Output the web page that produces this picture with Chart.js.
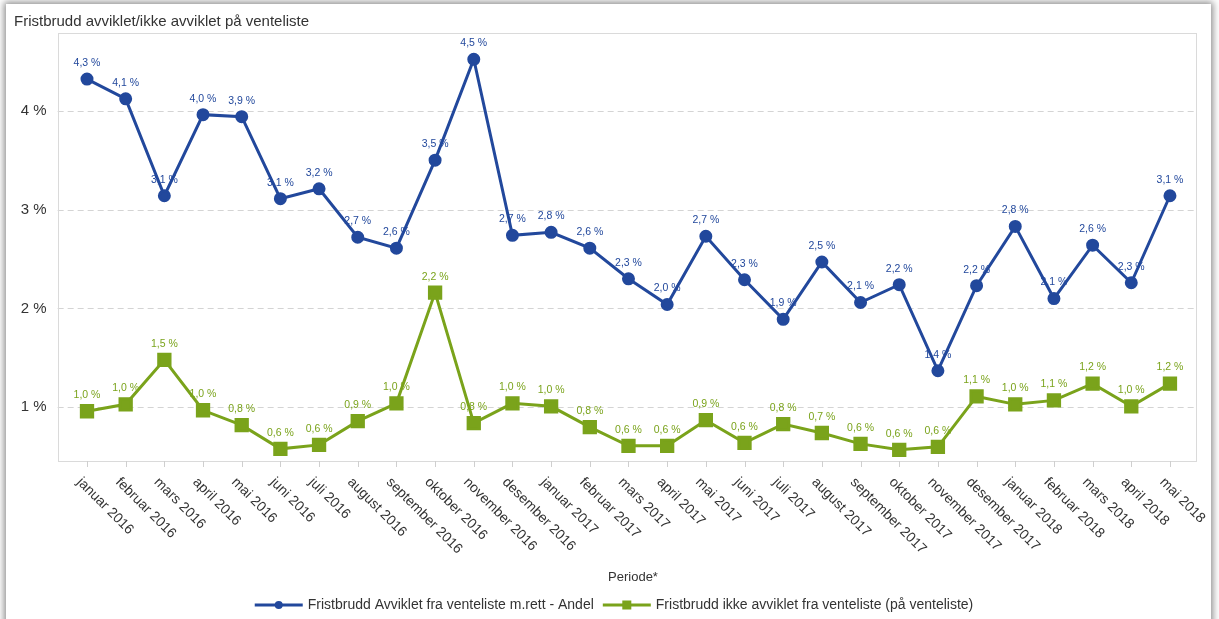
<!DOCTYPE html>
<html lang="no">
<head>
<meta charset="utf-8">
<title>Fristbrudd avviklet/ikke avviklet på venteliste</title>
<script src="https://cdn.jsdelivr.net/npm/chart.js@4.4.1/dist/chart.umd.min.js"></script>
<style>
  html, body { margin: 0; padding: 0; background: #ffffff; overflow: hidden; }
  #card {
    position: absolute; left: 6px; top: 4px; width: 1205px; height: 640px;
    background: #ffffff; box-shadow: 0 0 7px 2px rgba(0,0,0,0.45);
  }
  #chart { position: absolute; left: 0; top: 0; }
</style>
</head>
<body>
<div id="card"></div>
<canvas id="chart" width="1219" height="619"></canvas>
<script>
// Perioder (måneder) på x-aksen
const periods = [
  'januar 2016', 'februar 2016', 'mars 2016', 'april 2016', 'mai 2016', 'juni 2016',
  'juli 2016', 'august 2016', 'september 2016', 'oktober 2016', 'november 2016', 'desember 2016',
  'januar 2017', 'februar 2017', 'mars 2017', 'april 2017', 'mai 2017', 'juni 2017',
  'juli 2017', 'august 2017', 'september 2017', 'oktober 2017', 'november 2017', 'desember 2017',
  'januar 2018', 'februar 2018', 'mars 2018', 'april 2018', 'mai 2018'
];

// Andel fristbrudd, avviklet fra venteliste (prosent)
const avviklet = [
  4.32, 4.12, 3.14, 3.96, 3.94, 3.11, 3.21, 2.72, 2.61, 3.50, 4.52, 2.74,
  2.77, 2.61, 2.30, 2.04, 2.73, 2.29, 1.89, 2.47, 2.06, 2.24, 1.37, 2.23,
  2.83, 2.10, 2.64, 2.26, 3.14
];

// Andel fristbrudd, ikke avviklet (på venteliste) (prosent)
const ikkeAvviklet = [
  0.96, 1.03, 1.48, 0.97, 0.82, 0.58, 0.62, 0.86, 1.04, 2.16, 0.84, 1.04,
  1.01, 0.80, 0.61, 0.61, 0.87, 0.64, 0.83, 0.74, 0.63, 0.57, 0.60, 1.11,
  1.03, 1.07, 1.24, 1.01, 1.24
];

// Verdier med hjelpelinje og aksetekst på y-aksen
const yTicks = [1, 2, 3, 4];

const seriesNames = [
  'Fristbrudd Avviklet fra venteliste m.rett - Andel',
  'Fristbrudd ikke avviklet fra venteliste (på venteliste)'
];

const chartTitle = 'Fristbrudd avviklet/ikke avviklet på venteliste';
const xTitle = 'Periode*';

const BLUE = '#22489c';
const GREEN = '#7aa31b';
const TEXT = '#333333';
const FONT = '"Liberation Sans", Arial, Helvetica, sans-serif';

const fmtPct = v => v.toFixed(1).replace('.', ',') + ' %';

// Ramme, hjelpelinjer, akseetiketter, tittel og forklaring
const decor = {
  id: 'decor',
  beforeDatasetsDraw(chart) {
    const { ctx, chartArea: a, scales: { x, y } } = chart;
    const fl = a.left - 10, fr = a.right + 6;
    ctx.save();

    // stiplede hjelpelinjer
    ctx.strokeStyle = '#d4d4d4';
    ctx.lineWidth = 1;
    ctx.setLineDash([6, 4]);
    yTicks.forEach(v => {
      const py = Math.round(y.getPixelForValue(v)) + 0.5;
      ctx.beginPath(); ctx.moveTo(fl, py); ctx.lineTo(fr, py); ctx.stroke();
    });
    ctx.setLineDash([]);

    // ramme rundt plottet
    ctx.strokeStyle = '#dadada';
    ctx.strokeRect(Math.round(fl) + 0.5, Math.round(a.top) + 0.5,
                   Math.round(fr - fl), Math.round(a.bottom - a.top));

    // tick-streker og skrå månedsetiketter
    ctx.fillStyle = TEXT;
    ctx.font = '14px ' + FONT;
    ctx.textAlign = 'left';
    ctx.textBaseline = 'middle';
    periods.forEach((p, i) => {
      const px = x.getPixelForTick(i);
      ctx.strokeStyle = '#cfcfcf';
      ctx.beginPath();
      ctx.moveTo(Math.round(px) + 0.5, a.bottom);
      ctx.lineTo(Math.round(px) + 0.5, a.bottom + 6);
      ctx.stroke();
      ctx.save();
      ctx.translate(px - 8, a.bottom + 19);
      ctx.rotate(Math.PI / 4);
      ctx.fillText(p, 0, 0);
      ctx.restore();
    });

    // dataetiketter over punktene (under linjene)
    ctx.font = '10.5px ' + FONT;
    ctx.textAlign = 'center';
    ctx.textBaseline = 'middle';
    chart.data.datasets.forEach((ds, di) => {
      const meta = chart.getDatasetMeta(di);
      ctx.fillStyle = ds.borderColor;
      meta.data.forEach((pt, i) => {
        ctx.fillText(fmtPct(ds.data[i]), pt.x, pt.y - 16);
      });
    });
    ctx.restore();
  },
  afterDraw(chart) {
    const { ctx } = chart;
    ctx.save();
    // tittel
    ctx.fillStyle = TEXT;
    ctx.font = '15px ' + FONT;
    ctx.textAlign = 'left';
    ctx.textBaseline = 'alphabetic';
    ctx.fillText(chartTitle, 14, 26);

    // aksetittel
    ctx.font = '13px ' + FONT;
    ctx.textAlign = 'center';
    ctx.textBaseline = 'middle';
    ctx.fillText(xTitle, 633, 577);

    // forklaring
    ctx.font = '14px ' + FONT;
    ctx.textAlign = 'left';
    const lineLen = 48, gap = 5, itemGap = 9;
    const widths = chart.data.datasets.map(ds => ctx.measureText(ds.label).width);
    const total = widths.reduce((s, w) => s + lineLen + gap + w, 0) + itemGap;
    let lx = 614 - total / 2;
    const ly = 605;
    chart.data.datasets.forEach((ds, di) => {
      ctx.strokeStyle = ds.borderColor;
      ctx.fillStyle = ds.borderColor;
      ctx.lineWidth = 3;
      ctx.beginPath(); ctx.moveTo(lx, ly); ctx.lineTo(lx + lineLen, ly); ctx.stroke();
      const cx = lx + lineLen / 2;
      if (ds.pointStyle === 'rect') {
        ctx.fillRect(cx - 4.5, ly - 4.5, 9, 9);
      } else {
        ctx.beginPath(); ctx.arc(cx, ly, 4, 0, Math.PI * 2); ctx.fill();
      }
      ctx.fillStyle = TEXT;
      ctx.fillText(ds.label, lx + lineLen + gap, ly);
      lx += lineLen + gap + widths[di] + itemGap;
    });
    ctx.restore();
  }
};

new Chart(document.getElementById('chart'), {
  type: 'line',
  data: {
    labels: periods,
    datasets: [
      {
        label: seriesNames[0],
        data: avviklet,
        borderColor: BLUE,
        backgroundColor: BLUE,
        borderWidth: 3,
        pointStyle: 'circle',
        pointRadius: 5,
        pointHoverRadius: 5,
        tension: 0
      },
      {
        label: seriesNames[1],
        data: ikkeAvviklet,
        borderColor: GREEN,
        backgroundColor: GREEN,
        borderWidth: 3,
        pointStyle: 'rect',
        pointRadius: 8,
        pointHoverRadius: 8,
        tension: 0
      }
    ]
  },
  options: {
    responsive: false,
    animation: false,
    events: [],
    layout: { padding: { left: 0, right: 29.7, top: 33, bottom: 0 } },
    plugins: { legend: { display: false }, title: { display: false }, tooltip: { enabled: false } },
    scales: {
      x: {
        type: 'category',
        offset: true,
        grid: { display: false, drawTicks: false },
        border: { display: false },
        ticks: { display: false },
        afterFit(scale) { scale.height = 158; }
      },
      y: {
        min: 0.457,
        max: 4.786,
        grid: { display: false, drawTicks: false },
        border: { display: false },
        afterBuildTicks(scale) { scale.ticks = yTicks.map(v => ({ value: v })); },
        afterFit(scale) { scale.width = 67.66; },
        ticks: {
          padding: 21,
          color: TEXT,
          font: { size: 15, family: FONT },
          callback: v => v + ' %'
        }
      }
    }
  },
  plugins: [decor]
});
</script>
</body>
</html>
